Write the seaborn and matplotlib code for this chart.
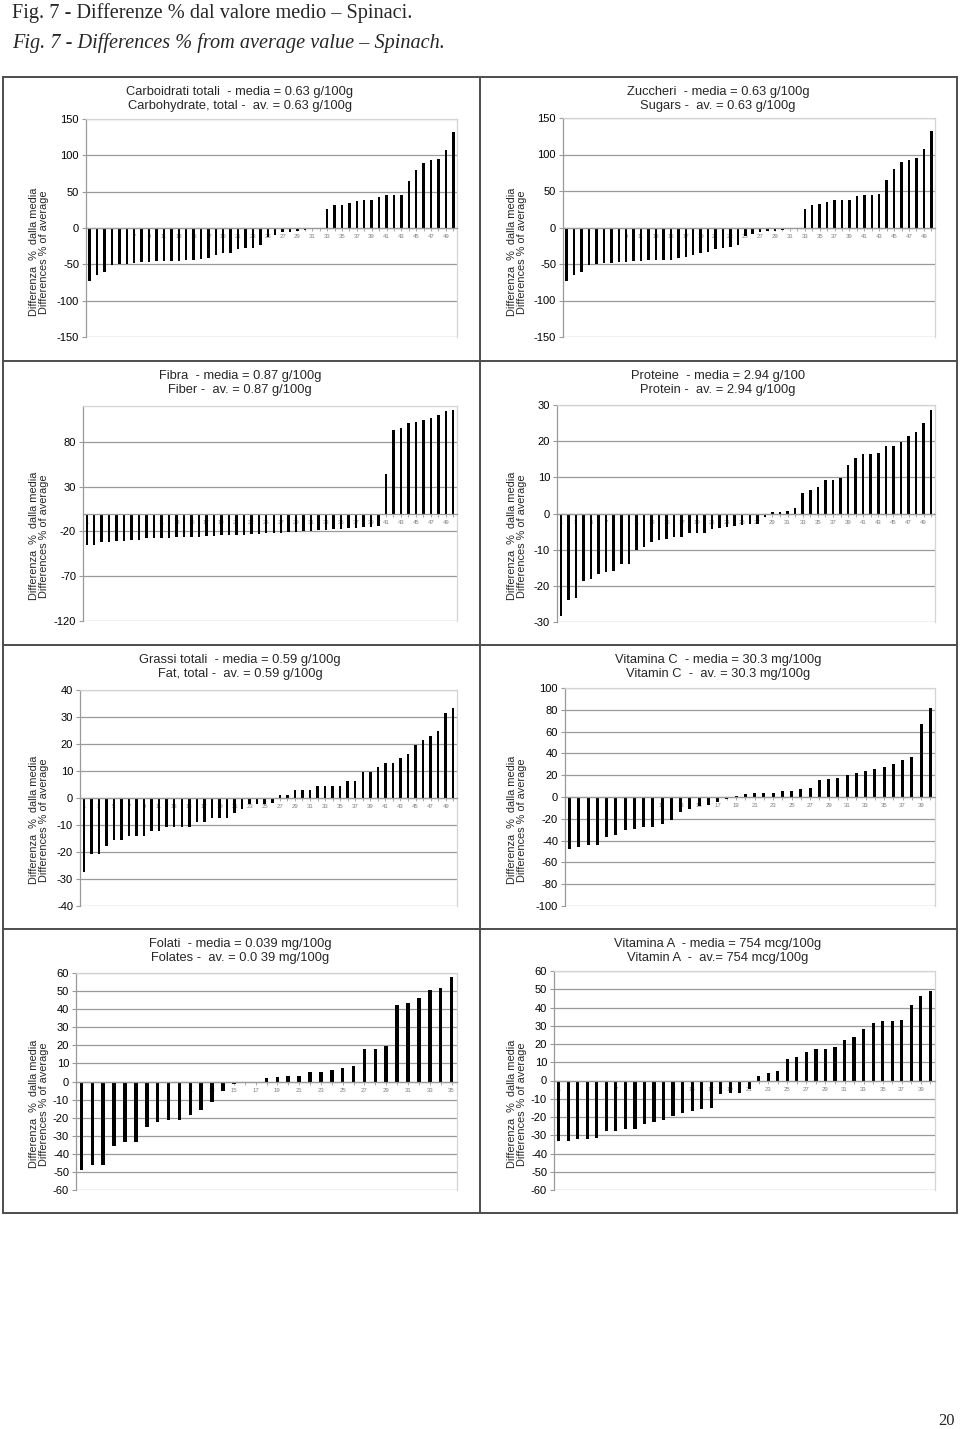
import pandas as pd
import matplotlib.pyplot as plt
import seaborn as sns
from matplotlib.lines import Line2D

# % differences from the average value, sorted
carbo = [-73, -65, -61, -51, -50, -49, -48, -47, -47, -46, -46, -45, -45, -44, -44, -42,
         -41, -37, -35, -34, -29, -28, -27, -24, -12, -9, -6, -5, -4.5, -3, -2, -1,
         26, 31, 32, 35, 37, 38, 38, 43, 45, 45, 46, 65, 80, 90, 93, 95, 107, 132]
sugars = [-73, -65, -61, -51, -50, -49, -48, -47, -47, -46, -46, -45, -45, -44, -44, -42,
          -41, -37, -35, -34, -29, -28, -27, -24, -12, -9, -6, -5, -4.5, -3, -2, -1,
          26, 31, 32, 35, 37, 38, 38, 43, 45, 45, 46, 65, 80, 90, 93, 95, 107, 132]
fiber = [-35, -35, -32, -31.5, -31, -30.5, -30, -29.5, -27.5, -27, -27, -27, -26.5, -26,
         -26, -25.7, -25, -24.7, -24.5, -24, -23.8, -23.5, -23, -22.6, -22.3, -22, -21.3,
         -21, -20.5, -20, -19.5, -18.7, -18, -17.8, -17.4, -16.7, -16, -15.5, -14.8, -13.6,
         44, 93.7, 96, 101, 102, 104, 106.5, 110, 114.7, 115.8]
protein = [-28.4, -24, -23.4, -18.6, -18, -16.6, -16.2, -15.9, -13.9, -13.9, -10.2, -9.4,
           -8, -7.4, -7.1, -6.6, -6.4, -5.4, -5.3, -5.3, -4.2, -3.9, -3.7, -3.4, -3.3, -3,
           -2.8, -1, 0.3, 0.4, 0.6, 1.4, 5.6, 6.6, 7.2, 9.3, 9.4, 9.7, 13.3, 15.4, 16.5,
           16.5, 16.8, 18.8, 18.8, 19.8, 21.5, 22.6, 25, 28.6]
fat = [-27.5, -20.7, -20.7, -17.6, -15.7, -15.6, -14.1, -14.1, -14.1, -12.4, -12.4, -10.8,
       -10.6, -10.6, -10.6, -8.9, -8.9, -7.3, -7.3, -7.3, -5.4, -4, -2.2, -2.2, -2.2, -2,
       1.1, 1.2, 2.8, 2.8, 2.8, 4.6, 4.6, 4.6, 4.6, 6.2, 6.2, 9.6, 9.6, 11.3, 12.9, 12.9,
       14.7, 16.3, 19.8, 21.3, 23.1, 24.7, 31.4, 33.2]
vit_c = [-47.7, -45.5, -44.3, -43.7, -36.7, -34.5, -30.6, -29.4, -27.8, -27.8, -25, -20.8,
         -13.8, -11.3, -8.6, -7.3, -4.3, -1.5, 0.8, 2.5, 3.7, 4, 4, 5.8, 5.8, 7, 8, 16,
         16.8, 17.8, 20, 22, 23.5, 26, 27.8, 30.5, 34.3, 37, 67, 81.5]
folates = [-49, -46.3, -46, -35.4, -33.6, -33.4, -24.9, -22.5, -21.4, -21.2, -18.8, -15.5,
           -11.6, -5.2, -1.3, -1.1, -0.4, 1.7, 2.6, 2.8, 3, 5.2, 5.5, 6.1, 7.6, 8.3, 17.7,
           17.7, 19.4, 42.1, 43.6, 46.2, 50.4, 51.8, 57.7]
vit_a = [-33.1, -33, -32.2, -31.8, -31.6, -27.4, -27.4, -26.7, -26.7, -24.1, -22.5, -21.6,
         -19.6, -17.7, -16.5, -15.7, -15.2, -7.3, -7.1, -6.6, -4.8, 2.4, 4.3, 5.3, 11.7,
         12.8, 15.7, 17.3, 17.5, 18.1, 22, 23.9, 28.3, 31.7, 32.4, 32.8, 33.1, 41.2, 46.5, 49.2]

titles = [
    "Carboidrati totali  - media = 0.63 g/100g\nCarbohydrate, total -  av. = 0.63 g/100g",
    "Zuccheri  - media = 0.63 g/100g\nSugars -  av. = 0.63 g/100g",
    "Fibra  - media = 0.87 g/100g\nFiber -  av. = 0.87 g/100g",
    "Proteine  - media = 2.94 g/100\nProtein -  av. = 2.94 g/100g",
    "Grassi totali  - media = 0.59 g/100g\nFat, total -  av. = 0.59 g/100g",
    "Vitamina C  - media = 30.3 mg/100g\nVitamin C  -  av. = 30.3 mg/100g",
    "Folati  - media = 0.039 mg/100g\nFolates -  av. = 0.0 39 mg/100g",
    "Vitamina A  - media = 754 mcg/100g\nVitamin A  -  av.= 754 mcg/100g",
]
series = [carbo, sugars, fiber, protein, fat, vit_c, folates, vit_a]
y_limits = [(-150, 150), (-150, 150), (-120, 120), (-30, 30),
            (-40, 40), (-100, 100), (-60, 60), (-60, 60)]
y_ticks = [list(range(-150, 151, 50)), list(range(-150, 151, 50)),
           [-120, -70, -20, 30, 80], list(range(-30, 31, 10)),
           list(range(-40, 41, 10)), list(range(-100, 101, 20)),
           list(range(-60, 61, 10)), list(range(-60, 61, 10))]

sns.set_theme(style="white")
plt.rcParams['font.family'] = ['Liberation Sans', 'DejaVu Sans']

W, H = 960, 1429
fig = plt.figure(figsize=(W / 100, H / 100), dpi=100)

def fx(x):
    return x / W

def fy(y):
    return 1 - y / H

# plot-area placement in pixels
lefts = [86, 563, 83, 557, 80, 565, 76, 554]
rights = [457, 935, 457, 935, 457, 935, 457, 935]
tops = [119, 118, 406, 405, 690, 688, 973, 971]
bottoms = [337, 337, 621, 622, 906, 906, 1190, 1190]
box_tops = [77, 361, 645, 929, 1213]

grid_col = '#9a9a9a'
for i, vals in enumerate(series):
    l, r, t, b = lefts[i], rights[i], tops[i], bottoms[i]
    ax = fig.add_axes([fx(l), fy(b), fx(r) - fx(l), fy(t) - fy(b)])
    df = pd.DataFrame({'n': range(1, len(vals) + 1), 'diff': vals})
    sns.barplot(data=df, x='n', y='diff', color='black', width=0.33,
                saturation=1, linewidth=0, ax=ax)
    ax.set_axisbelow(True)
    ax.set_ylim(*y_limits[i])
    ax.set_yticks(y_ticks[i])
    ax.set_yticklabels([str(v) for v in y_ticks[i]])
    n = len(vals)
    ax.set_xticks(range(0, n, 2))
    ax.set_xticklabels([str(k + 1) for k in range(0, n, 2)])
    ax.set_xticks(range(1, n, 2), minor=True)
    ax.set_xlabel('')
    ax.set_ylabel('')
    ax.yaxis.grid(True, color=grid_col, linewidth=0.9)
    ax.spines['bottom'].set_position(('data', 0))
    ax.spines['bottom'].set_color(grid_col)
    ax.spines['left'].set_color(grid_col)
    ax.spines['top'].set_color('#d4d4d4')
    ax.spines['right'].set_color('#d4d4d4')
    for s in ax.spines.values():
        s.set_linewidth(0.9)
    ax.tick_params(axis='y', which='major', length=3, width=0.8, color=grid_col,
                   left=True, pad=2, labelsize=8, labelcolor='black')
    ax.tick_params(axis='x', which='both', length=2, width=0.6, color=grid_col,
                   bottom=True, pad=2.5, labelsize=4.3, labelcolor='#808080')

    col = i % 2
    row = i // 2
    cx = 240 if col == 0 else 718
    fig.text(fx(cx), fy(box_tops[row] + 22), titles[i], ha='center', va='center',
             fontsize=9.3, linespacing=1.15)
    lx = 39 if col == 0 else 517
    fig.text(fx(lx), fy(box_tops[row] + 175),
             "Differenza  %  dalla media\nDifferences % of average",
             rotation=90, ha='center', va='center', fontsize=7.9, linespacing=1.1)

# panel frames
frame = dict(color='#4d4d4d', linewidth=1.4, transform=fig.transFigure)
for y in box_tops:
    fig.add_artist(Line2D([fx(3), fx(957)], [fy(y), fy(y)], **frame))
for x in [3, 480, 957]:
    fig.add_artist(Line2D([fx(x), fx(x)], [fy(box_tops[0]), fy(box_tops[-1])], **frame))

serif = ['Liberation Serif', 'DejaVu Serif']
fig.text(fx(12), fy(18), "Fig. 7 - Differenze % dal valore medio \u2013 Spinaci.",
         family=serif, fontsize=14.6, ha='left', va='baseline')
fig.text(fx(12), fy(48), "Fig. 7 - Differences % from average value \u2013 Spinach.",
         family=serif, fontsize=14.6, style='italic', ha='left', va='baseline')
fig.text(fx(955), fy(1425), "20", family=serif, fontsize=12, ha='right', va='baseline')

fig.savefig("out.png", dpi=100)
